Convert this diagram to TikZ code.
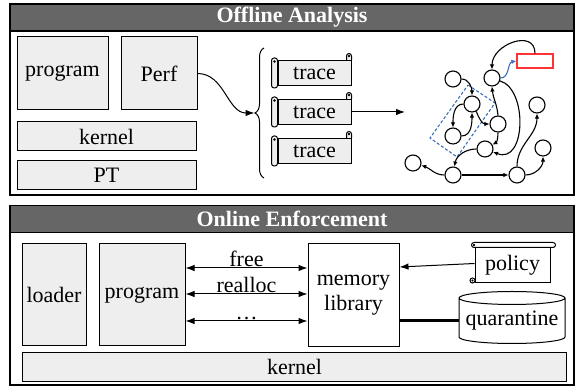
\documentclass[tikz,border=0pt]{standalone}
\usepackage{fontspec}
\setmainfont{Liberation Serif}
\usetikzlibrary{arrows.meta,positioning,calc,decorations.pathreplacing,shapes.geometric}
\definecolor{boxgray}{HTML}{EEEEEE}
\definecolor{bargray}{HTML}{666666}
\definecolor{linkblue}{HTML}{3F6FB6}
\definecolor{markred}{HTML}{FF3333}

% curls of a scroll lying on its side (rolled at the left)
\newcommand{\traceroll}[1]{%
  \draw[fill=boxgray, line width=1pt, rounded corners=2.5pt]
    ([xshift=-6pt,yshift=2pt]#1.north west) rectangle ([yshift=-2pt]#1.south west);
  \fill ([xshift=-3pt,yshift=-1.5pt]#1.north west) circle (1.3pt);
  \draw[fill=boxgray, line width=1pt]
    ([xshift=-5pt]#1.north east) -- ([xshift=-5pt,yshift=4pt]#1.north east)
    arc[start angle=180, end angle=0, radius=2.5pt] -- (#1.north east);
  \fill ([xshift=-2.5pt,yshift=4pt]#1.north east) circle (1.3pt);
}
% curls of an upright scroll (rolled at the top)
\newcommand{\policyroll}[1]{%
  \draw[fill=white, line width=1pt, rounded corners=2.5pt]
    ([xshift=-3pt]#1.north west) rectangle ([xshift=5pt,yshift=5pt]#1.north east);
  \fill ([xshift=-0.5pt,yshift=2.5pt]#1.north west) circle (1.3pt);
  \draw[fill=white, line width=1pt] ([xshift=-2pt,yshift=3pt]#1.south west) circle (2.5pt);
  \fill ([xshift=-2pt,yshift=3pt]#1.south west) circle (1.2pt);
}

\begin{document}
\begin{tikzpicture}[
  x=1pt, y=1pt, >={Latex[length=9pt,width=6.5pt]},
  every node/.style={font=\fontsize{22}{25}\selectfont},
  frame/.style={draw, line width=1.2pt},
  bar/.style={draw, fill=bargray, line width=1.2pt, text=white,
              font=\fontsize{22}{25}\selectfont\bfseries,
              minimum width=564, minimum height=27, inner sep=0},
  blk/.style={draw, fill=boxgray, line width=1pt, inner sep=0, align=center},
  tracebox/.style={blk, minimum width=73, minimum height=25},
  vtx/.style={circle, draw, fill=white, line width=1.1pt, minimum size=16, inner sep=0},
  gedge/.style={-{Latex[length=5pt,width=4.5pt]}, line width=1.1pt},
]
\useasboundingbox (0,0) rectangle (576,387);

% offline part
\draw[frame] (10,192) rectangle (574,383);
\node[bar] (offline) at (292,369.5) {Offline Analysis};
\node[blk, minimum width=91, minimum height=73] (prog1) at (62.5,313.5) {program};
\node[blk, minimum width=76, minimum height=73, right=12pt of prog1] (perf) {Perf};
\node[blk, minimum width=179, minimum height=29, anchor=north west]
  (kern1) at ([yshift=-11pt]prog1.south west) {kernel};
\node[blk, minimum width=179, minimum height=29, below=9pt of kern1] (pt) {PT};

\node[tracebox] (tr2) at (314.5,275) {trace};
\node[tracebox, above=13pt of tr2] (tr1) {trace};
\node[tracebox, below=13pt of tr2] (tr3) {trace};
\foreach \t in {tr1,tr2,tr3} {\traceroll{\t}}

\draw[decorate, decoration={brace, amplitude=9pt}, line width=1pt] (264,209) -- (264,339);
\coordinate (bt) at (254.5,274);
\draw[->, line width=1pt] (perf.east) to[out=0, in=180] (bt);
\coordinate (gin) at (405,275);
\draw[->, line width=1pt] (tr2.east) -- (gin);

% graph
\draw[linkblue, dash pattern=on 3pt off 2pt, line width=1.1pt]
  (468,302) -- (495,284) -- (457,230) -- (430,249) -- cycle;
\node[vtx] (a) at (453,308) {};
\node[vtx] (b) at (492,309) {};
\node[vtx] (c) at (472,283) {};
\node[vtx] (d) at (498,263) {};
\node[vtx] (e) at (453,251) {};
\node[vtx] (f) at (485,238) {};
\node[vtx] (g) at (537,282) {};
\node[vtx] (h) at (543,239) {};
\node[vtx] (i) at (413,224) {};
\node[vtx] (j) at (453,212) {};
\node[vtx] (k) at (517,212) {};
\node[draw=markred, fill=white, line width=1.2pt, minimum width=36,
      minimum height=14, inner sep=0] (tag) at (535,326) {};

\draw[gedge] (a.east) to[out=0,in=90] (c.north);
\draw[gedge] (c.west) to[out=180,in=90] (e.north);
\draw[gedge] (e.east) to[out=0,in=-90] (c.south);
\draw[gedge] (c.-60) to[out=-70,in=180] (d.west);
\draw[gedge] (d.north) to[out=95,in=-85] (b.south);
\draw[gedge] (d.south) to[out=-90,in=30] (f.30);
\draw[gedge] (b.-20) .. controls (528,298) and (526,222) .. (f.-20);
\draw[gedge] (f.west) to[out=180,in=80] (j.80);
\draw[gedge] (j.west) to[out=180,in=-20] (i.-15);
\draw[gedge] (j.east) -- (k.west);
\draw[gedge] (k.north) to[out=90,in=-90] (g.south);
\draw[gedge] (k.east) to[out=0,in=-90] (h.south);
\draw[gedge] (tag.north) to[out=90,in=90,looseness=1.4] (b.north);
\draw[gedge, linkblue] (b.east) to[out=0,in=190] (tag.west);

% online part
\draw[frame] (10,2) rectangle (574,181);
\node[bar] (online) at (292,168) {Online Enforcement};
\node[blk, minimum width=64, minimum height=102] (loader) at (54,92) {loader};
\node[blk, minimum width=86, minimum height=102, right=12pt of loader] (prog2) {program};
\node[blk, fill=white, minimum width=91, minimum height=103, right=122pt of prog2]
  (mem) {memory\\library};
\node[blk, minimum width=544, minimum height=29, anchor=south west] (kern2) at (22,5) {kernel};

\foreach \dy/\op in {27/free, 1/realloc, -26/\ldots}
  \draw[<->, line width=1pt] ([yshift=\dy]prog2.east)
    -- node[above, inner sep=1pt] {\op} ([yshift=\dy]prog2.east -| mem.west);

\node[draw, fill=white, line width=1pt, minimum width=75, minimum height=35,
      inner sep=0] (pol) at (512.5,121.5) {policy};
\policyroll{pol}
\draw[->, line width=1pt] ([yshift=2pt]pol.west) -- ([yshift=28pt]mem.east);

\node[cylinder, shape border rotate=90, draw, fill=white, line width=1pt, aspect=0.14,
      minimum width=106, minimum height=52, inner sep=0] (quar) at (512,66) {quarantine};
\draw[line width=3pt] (mem.east |- quar.west) -- (quar.west);
\end{tikzpicture}
\end{document}
